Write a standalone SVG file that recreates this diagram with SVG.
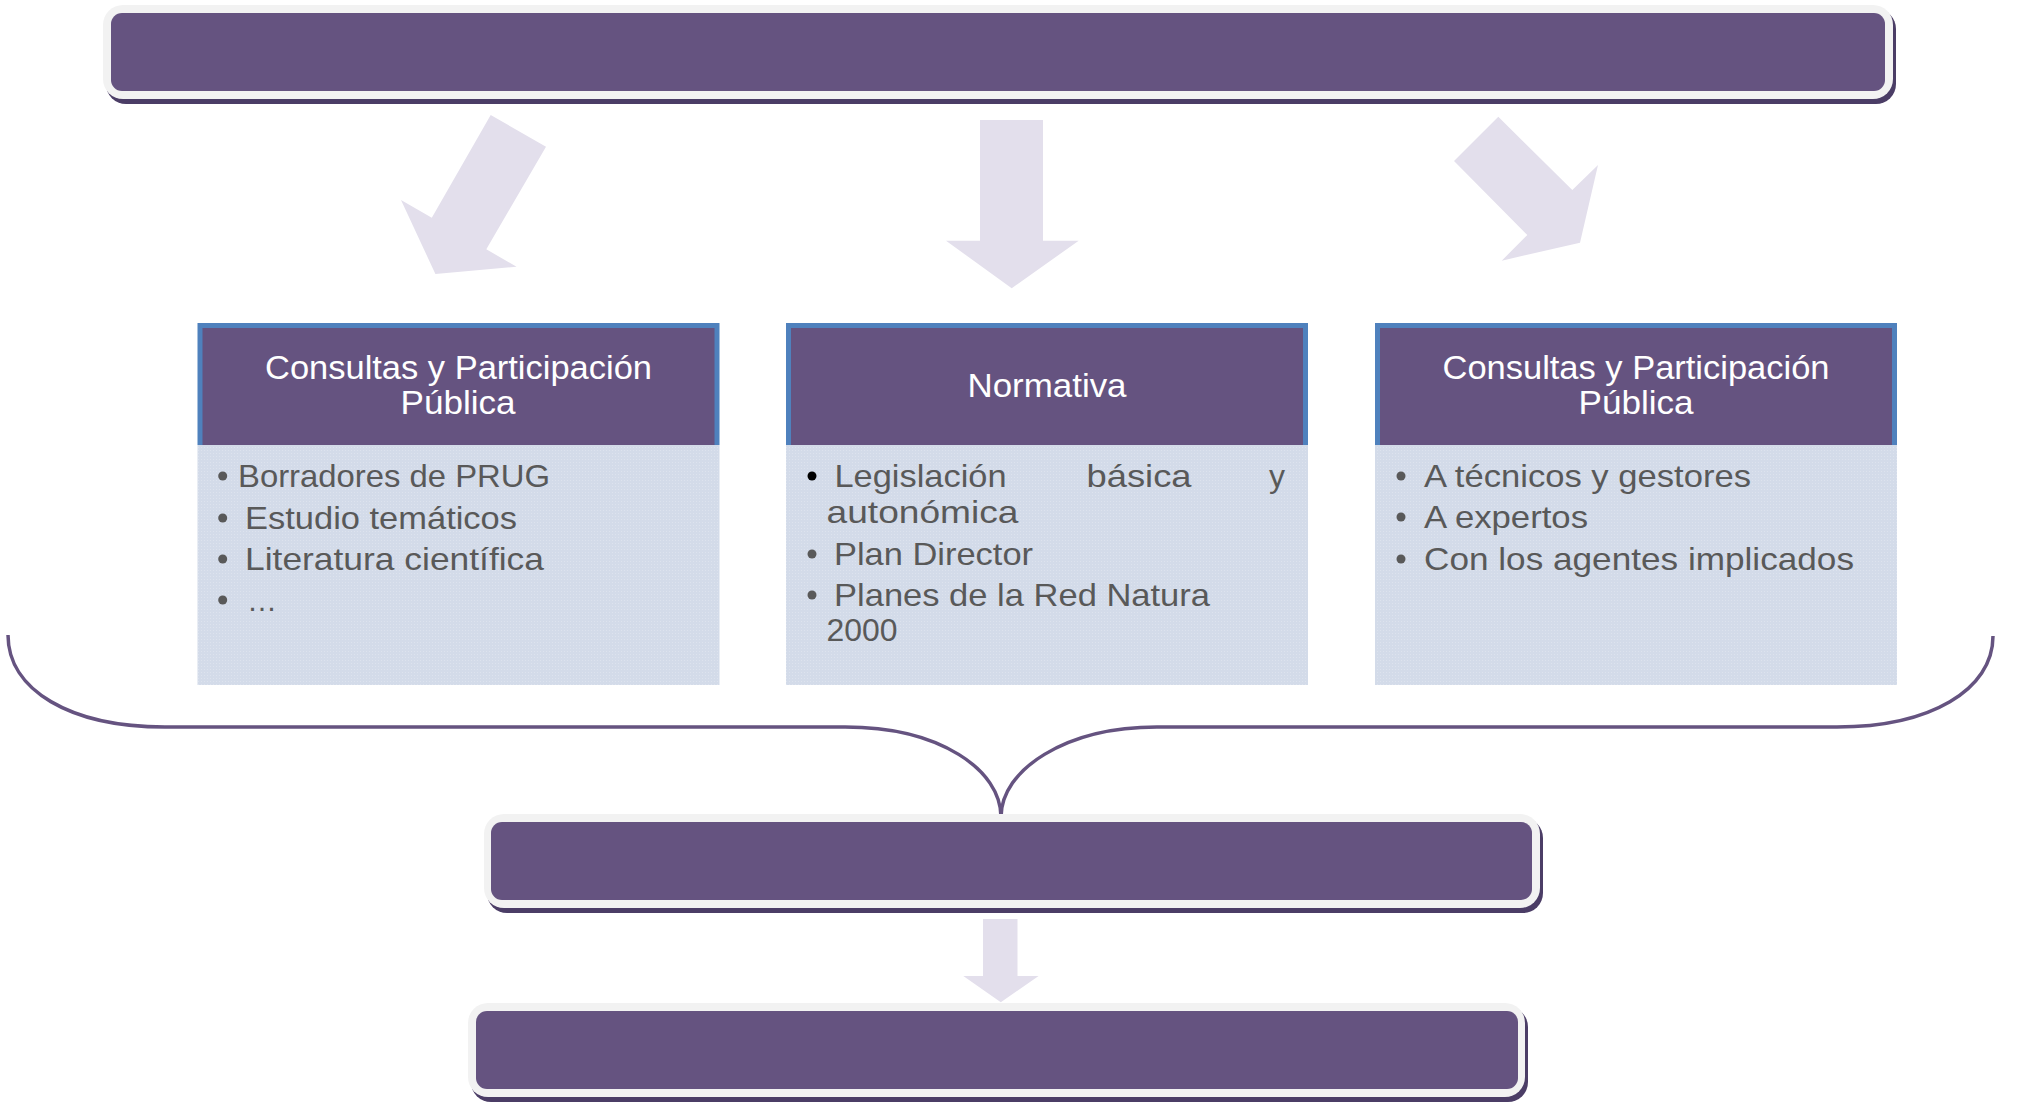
<svg xmlns="http://www.w3.org/2000/svg" width="2017" height="1103" viewBox="0 0 2017 1103">
<defs>
<pattern id="dots" width="3" height="3" patternUnits="userSpaceOnUse">
<rect width="3" height="3" fill="#d3dbe9"/>
<rect width="1" height="1" fill="#dde3ee"/>
</pattern>
<style>
.shadow{fill:#4b3d66}
.frame{fill:#f2f2f2}
.bar{fill:#655380}
.arrow{fill:#e3dfec}
.hdrbg{fill:#4f81bd}
.hdr{fill:#655380}
.body{fill:url(#dots)}
.ht{font-family:"Liberation Sans",Arial,sans-serif;font-size:33px;fill:#ffffff}
.bt{font-family:"Liberation Sans",Arial,sans-serif;font-size:32px;fill:#595959}
.dot{fill:#595959}
.brace{fill:none;stroke:#655380;stroke-width:3.5}
</style>
</defs>
<rect width="2017" height="1103" fill="#ffffff"/>

<g id="top-bar">
<rect class="shadow" x="106" y="9" width="1790" height="95" rx="20"/>
<rect class="frame" x="103" y="5" width="1790" height="94" rx="20"/>
<rect class="bar" x="111" y="13" width="1774" height="78" rx="11"/>
</g>

<g id="connectors">
<polygon class="arrow" points="490.7,115 546,146.7 486.3,249.3 516.6,266.7 435.4,274 401,200 431.8,217.7"/>
<polygon class="arrow" points="980,120 1043,120 1043,240.7 1078.7,240.7 1011.7,288.3 946,240.7 980,240.7"/>
<polygon class="arrow" points="1498.3,116.7 1572.3,190 1598,165 1580,242.7 1501.7,260.7 1527.3,235 1454,161"/>
<path class="brace" d="M 8 635 C 8 690, 70 727, 165 727 L 845 727 C 940 727, 1001 770, 1001 817 C 1001 770, 1065 727, 1157 727 L 1837 727 C 1930 727, 1993 690, 1993 636"/>
<polygon class="arrow" points="983,919 1017.5,919 1017.5,976 1038.6,976 1000.8,1002.3 963.3,976 983,976"/>
</g>

<g id="box1">
<rect class="body" x="197.5" y="445" width="522" height="240"/>
<rect class="hdrbg" x="197.5" y="323" width="522" height="122"/>
<rect class="hdr" x="202.5" y="328" width="512" height="117"/>
<text class="ht" x="265" y="379" textLength="387" lengthAdjust="spacingAndGlyphs">Consultas y Participación</text>
<text class="ht" x="400.5" y="414" textLength="115" lengthAdjust="spacingAndGlyphs">Pública</text>
<circle class="dot" cx="222.7" cy="476" r="4.5"/>
<text class="bt" x="238" y="487" textLength="312" lengthAdjust="spacingAndGlyphs">Borradores de PRUG</text>
<circle class="dot" cx="222.7" cy="518" r="4.5"/>
<text class="bt" x="245" y="529" textLength="272" lengthAdjust="spacingAndGlyphs">Estudio temáticos</text>
<circle class="dot" cx="222.7" cy="559" r="4.5"/>
<text class="bt" x="245" y="570" textLength="299" lengthAdjust="spacingAndGlyphs">Literatura científica</text>
<circle class="dot" cx="222.7" cy="600" r="4.5"/>
<text class="bt" x="247" y="611" textLength="30" lengthAdjust="spacingAndGlyphs">…</text>
</g>

<g id="box2">
<rect class="body" x="786" y="445" width="522" height="240"/>
<rect class="hdrbg" x="786" y="323" width="522" height="122"/>
<rect class="hdr" x="791" y="328" width="512" height="117"/>
<text class="ht" x="967.5" y="397" textLength="159" lengthAdjust="spacingAndGlyphs">Normativa</text>
<circle cx="812" cy="476" r="4.5" fill="#000000"/>
<text class="bt" x="834.5" y="487" textLength="172" lengthAdjust="spacingAndGlyphs">Legislación</text>
<text class="bt" x="1086.5" y="487" textLength="105" lengthAdjust="spacingAndGlyphs">básica</text>
<text class="bt" x="1269" y="487">y</text>
<text class="bt" x="826.5" y="523" textLength="192" lengthAdjust="spacingAndGlyphs">autonómica</text>
<circle class="dot" cx="812" cy="554" r="4.5"/>
<text class="bt" x="834" y="565" textLength="199" lengthAdjust="spacingAndGlyphs">Plan Director</text>
<circle class="dot" cx="812" cy="595" r="4.5"/>
<text class="bt" x="834" y="606" textLength="376" lengthAdjust="spacingAndGlyphs">Planes de la Red Natura</text>
<text class="bt" x="826.5" y="641" textLength="71" lengthAdjust="spacingAndGlyphs">2000</text>
</g>

<g id="box3">
<rect class="body" x="1375" y="445" width="522" height="240"/>
<rect class="hdrbg" x="1375" y="323" width="522" height="122"/>
<rect class="hdr" x="1380" y="328" width="512" height="117"/>
<text class="ht" x="1442.5" y="379" textLength="387" lengthAdjust="spacingAndGlyphs">Consultas y Participación</text>
<text class="ht" x="1578.5" y="414" textLength="115" lengthAdjust="spacingAndGlyphs">Pública</text>
<circle class="dot" cx="1401" cy="476" r="4.5"/>
<text class="bt" x="1424" y="487" textLength="327" lengthAdjust="spacingAndGlyphs">A técnicos y gestores</text>
<circle class="dot" cx="1401" cy="517" r="4.5"/>
<text class="bt" x="1424" y="528" textLength="164" lengthAdjust="spacingAndGlyphs">A expertos</text>
<circle class="dot" cx="1401" cy="559" r="4.5"/>
<text class="bt" x="1424" y="570" textLength="430" lengthAdjust="spacingAndGlyphs">Con los agentes implicados</text>
</g>

<g id="middle-bar">
<rect class="shadow" x="487" y="818" width="1056" height="95" rx="20"/>
<rect class="frame" x="484" y="814" width="1056" height="94" rx="20"/>
<rect class="bar" x="491" y="822" width="1041" height="78" rx="11"/>
</g>

<g id="bottom-bar">
<rect class="shadow" x="471" y="1007" width="1057" height="95" rx="20"/>
<rect class="frame" x="468" y="1003" width="1057" height="94" rx="20"/>
<rect class="bar" x="476" y="1011" width="1042" height="78" rx="11"/>
</g>
</svg>
